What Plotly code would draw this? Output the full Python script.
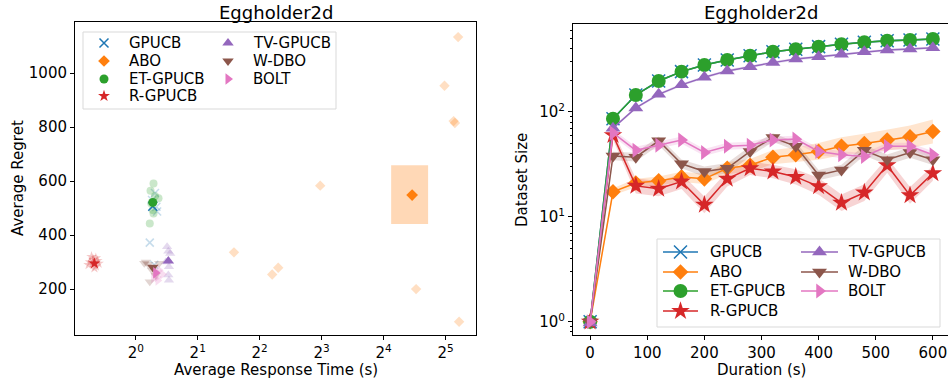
import math
import plotly.graph_objects as go

# ---------------- data ----------------
methods = ["GPUCB", "ABO", "ET-GPUCB", "R-GPUCB", "TV-GPUCB", "W-DBO", "BOLT"]
colors = ["#1f77b4", "#ff7f0e", "#2ca02c", "#d62728", "#9467bd", "#8c564b", "#e377c2"]

# Left panel: individual runs (response time s, regret) and means
gpucb_time = [1.24, 1.27, 1.17, 1.20, 1.26, 1.23]
gpucb_regret = [556, 487, 372, 530, 505, 290]
abo_time = [36.8, 31.6, 35.0, 35.5, 7.87, 3.0, 4.6, 4.92, 23.0, 37.2]
abo_regret = [1133, 953, 822, 815, 583, 336, 254, 279, 200, 79]
et_time = [1.22, 1.18, 1.29, 1.19, 1.21, 1.22, 1.17, 1.24]
et_regret = [591, 564, 536, 517, 493, 480, 443, 545]
r_time = [0.62, 0.60, 0.64, 0.66, 0.61, 0.63, 0.65, 0.59, 0.64, 0.62]
r_regret = [310, 300, 285, 295, 320, 278, 305, 290, 315, 298]
tv_time = [1.42, 1.47, 1.44, 1.45, 1.44, 1.45, 1.40]
tv_regret = [357, 332, 340, 283, 252, 233, 300]
wdbo_time = [1.10, 1.15, 1.30, 1.17, 1.25, 1.12, 1.20]
wdbo_regret = [296, 292, 296, 227, 250, 300, 270]
bolt_time = [1.27, 1.30, 1.22, 1.35, 1.25, 1.28]
bolt_regret = [245, 270, 240, 255, 265, 232]

mean_time = [1.21, 22.0, 1.21, 0.63, 1.44, 1.21, 1.25]
mean_regret = [507, 548, 521, 295, 304, 281, 260]
abo_std_time = [17.4, 26.3]
abo_std_regret = [441, 659]

# Right panel: dataset size vs duration
duration = [0, 40, 80, 120, 160, 200, 240, 280, 320, 360, 400, 440, 480, 520, 560, 600]
gpucb_size = [1, 86, 145, 197, 242, 280, 313, 343, 375, 395, 419, 441, 461, 477, 485, 495]
abo_size = [1, 17.3, 21, 22, 24, 23, 29, 31, 37, 39, 42, 47, 50, 54, 58, 65]
et_size = [1, 86, 145, 197, 242, 280, 313, 343, 375, 395, 419, 441, 461, 477, 485, 495]
r_size = [1, 60, 19.7, 18.5, 21.7, 13, 23, 29, 27, 24, 19.5, 13.6, 17, 31, 16, 26]
tv_size = [0.97, 70, 109, 147, 181, 214, 246, 270, 295, 319, 336, 354, 375, 389, 398, 409]
wdbo_size = [1, 38, 37, 53, 32, 27, 29, 42, 57, 47, 25, 28, 43, 35, 41, 35]
bolt_size = [1, 63, 43, 48, 54, 41, 47, 48, 54, 55, 42, 39, 37.5, 47, 47, 39]

# relative half-width of shaded bands
gpucb_spread = [0.02] * 16
abo_spread = [0.0, 0.08, 0.10, 0.10, 0.12, 0.12, 0.14, 0.15, 0.17, 0.18, 0.20, 0.22, 0.24, 0.26, 0.28, 0.30]
et_spread = [0.02] * 16
r_spread = [0.0, 0.10, 0.18, 0.18, 0.18, 0.20, 0.18, 0.16, 0.16, 0.18, 0.20, 0.20, 0.20, 0.18, 0.20, 0.18]
tv_spread = [0.03] * 16
wdbo_spread = [0.0, 0.10, 0.10, 0.10, 0.10, 0.12, 0.12, 0.12, 0.10, 0.10, 0.12, 0.12, 0.12, 0.12, 0.12, 0.12]
bolt_spread = [0.0, 0.08, 0.08, 0.08, 0.08, 0.08, 0.08, 0.08, 0.08, 0.08, 0.08, 0.08, 0.08, 0.08, 0.08, 0.08]

left_runs = [(gpucb_time, gpucb_regret), (abo_time, abo_regret), (et_time, et_regret),
             (r_time, r_regret), (tv_time, tv_regret), (wdbo_time, wdbo_regret), (bolt_time, bolt_regret)]
right_sizes = [gpucb_size, abo_size, et_size, r_size, tv_size, wdbo_size, bolt_size]
right_spreads = [gpucb_spread, abo_spread, et_spread, r_spread, tv_spread, wdbo_spread, bolt_spread]

symbols = ["x-thin", "diamond", "circle", "star", "triangle-up", "triangle-down", "triangle-right"]
left_sizes = [9, 9, 9, 9, 10, 10, 10]
right_msize = [13, 12, 14, 14, 13, 13, 13]

FONT = "DejaVu Sans"
W, H = 948, 387
ML, MR, MT, MB = 75, 0, 22, 52
PW, PH = W - ML - MR, H - MT - MB


def px_x(px):
    return (px - ML) / PW


def px_y(py):
    return (H - MB - py) / PH


def rgba(hexc, a):
    h = hexc.lstrip("#")
    return "rgba(%d,%d,%d,%s)" % (int(h[0:2], 16), int(h[2:4], 16), int(h[4:6], 16), a)


def marker(i, size, opacity=None):
    mk = dict(symbol=symbols[i], size=size, color=colors[i])
    if opacity is not None:
        mk["opacity"] = opacity
    if symbols[i] == "x-thin":
        mk["line"] = dict(width=1.5, color=colors[i])
    return mk


fig = go.Figure()

# ---------- left panel ----------
fig.add_trace(go.Scatter(
    x=[abo_std_time[0], abo_std_time[1], abo_std_time[1], abo_std_time[0], abo_std_time[0]],
    y=[abo_std_regret[0], abo_std_regret[0], abo_std_regret[1], abo_std_regret[1], abo_std_regret[0]],
    fill="toself", fillcolor=rgba(colors[1], 0.3), line=dict(width=0), mode="lines",
    showlegend=False, hoverinfo="skip", xaxis="x", yaxis="y"))

for i, m in enumerate(methods):
    t, r = left_runs[i]
    fig.add_trace(go.Scatter(x=t, y=r, mode="markers", marker=marker(i, left_sizes[i] - 1, 0.25),
                             showlegend=False, xaxis="x", yaxis="y", hoverinfo="skip"))

for i, m in enumerate(methods):
    fig.add_trace(go.Scatter(x=[mean_time[i]], y=[mean_regret[i]], mode="markers",
                             marker=marker(i, left_sizes[i]), name=m, showlegend=False,
                             xaxis="x", yaxis="y"))

# ---------- right panel ----------
for i, m in enumerate(methods):
    s = right_sizes[i]
    sp = right_spreads[i]
    hi = [v * (1 + e) for v, e in zip(s, sp)]
    lo = [v / (1 + e) for v, e in zip(s, sp)]
    fig.add_trace(go.Scatter(x=duration + duration[::-1], y=hi + lo[::-1], fill="toself",
                             fillcolor=rgba(colors[i], 0.2), line=dict(width=0), mode="lines",
                             showlegend=False, hoverinfo="skip", xaxis="x2", yaxis="y2"))

for i, m in enumerate(methods):
    fig.add_trace(go.Scatter(x=duration, y=right_sizes[i], mode="lines+markers",
                             line=dict(color=colors[i], width=1.5), marker=marker(i, right_msize[i]),
                             name=m, showlegend=False, xaxis="x2", yaxis="y2"))

# ---------- legends (drawn on a pixel-space overlay) ----------
legend_frames = [(83, 336, 32, 109), (657, 940, 239, 327)]
for (x0, x1, y0, y1) in legend_frames:
    fig.add_shape(type="rect", xref="paper", yref="paper", x0=px_x(x0), x1=px_x(x1),
                  y0=px_y(y1), y1=px_y(y0), line=dict(color="#d9d9d9", width=1),
                  fillcolor="white", layer="below")

left_rows = [43, 61, 79, 96]
right_rows = [252, 272, 291, 311]
left_cols = [(104, 127), (228, 251)]          # (symbol centre, text start)
right_cols = [(663, 698, 708), (801, 838, 846)]  # (line start, line end, text start)

for i, m in enumerate(methods):
    c = 0 if i < 4 else 1
    r = i if i < 4 else i - 4
    sx, tx = left_cols[c]
    fig.add_trace(go.Scatter(x=[sx], y=[left_rows[r]], mode="markers", marker=marker(i, left_sizes[i]),
                             showlegend=False, hoverinfo="skip", xaxis="x3", yaxis="y3"))
    fig.add_annotation(text=m, x=px_x(tx), y=px_y(left_rows[r]), xref="paper", yref="paper",
                       xanchor="left", yanchor="middle", showarrow=False,
                       font=dict(family=FONT, size=15, color="black"))
    lx0, lx1, tx2 = right_cols[c]
    yy = right_rows[r]
    fig.add_trace(go.Scatter(x=[lx0, lx1], y=[yy, yy], mode="lines", line=dict(color=colors[i], width=1.5),
                             showlegend=False, hoverinfo="skip", xaxis="x3", yaxis="y3"))
    fig.add_trace(go.Scatter(x=[(lx0 + lx1) / 2], y=[yy], mode="markers", marker=marker(i, right_msize[i]),
                             showlegend=False, hoverinfo="skip", xaxis="x3", yaxis="y3"))
    fig.add_annotation(text=m, x=px_x(tx2), y=px_y(yy), xref="paper", yref="paper",
                       xanchor="left", yanchor="middle", showarrow=False,
                       font=dict(family=FONT, size=15, color="black"))

axis_common = dict(showline=True, linecolor="black", linewidth=1, ticks="outside", ticklen=4,
                   tickcolor="black", tickfont=dict(family=FONT, size=15, color="black"),
                   showgrid=False, zeroline=False)

lxa, lxb = -0.98, 5.49
fig.update_layout(
    width=W, height=H, margin=dict(l=ML, r=MR, t=MT, b=MB),
    paper_bgcolor="white", plot_bgcolor="rgba(0,0,0,0)",
    font=dict(family=FONT, size=15, color="black"),
    showlegend=False,
    xaxis=dict(domain=[0, px_x(476)], type="log",
               range=[lxa * math.log10(2), lxb * math.log10(2)],
               tickmode="array", tickvals=[1, 2, 4, 8, 16, 32],
               ticktext=["2<sup>%d</sup>" % k for k in range(6)],
               mirror=True, anchor="y", **axis_common),
    yaxis=dict(domain=[0, 1], range=[30, 1189], tickmode="array",
               tickvals=[200, 400, 600, 800, 1000], mirror=True, anchor="x", **axis_common),
    xaxis2=dict(domain=[px_x(573), 1], range=[-30, 626.5], tickmode="array",
                tickvals=[0, 100, 200, 300, 400, 500, 600], mirror=True, anchor="y2", **axis_common),
    yaxis2=dict(domain=[0, px_y(24)], type="log", range=[-0.127, 2.838], tickmode="array",
                tickvals=[1, 10, 100], ticktext=["10<sup>0</sup>", "10<sup>1</sup>", "10<sup>2</sup>"],
                minor=dict(ticks="outside", ticklen=2, tickcolor="black", tickmode="array",
                           tickvals=[0.8, 0.9, 2, 3, 4, 5, 6, 7, 8, 9, 20, 30, 40, 50, 60, 70, 80, 90,
                                     200, 300, 400, 500, 600]),
                anchor="x2", **axis_common),
    xaxis3=dict(domain=[0, 1], range=[ML, W], visible=False, fixedrange=True, anchor="y3"),
    yaxis3=dict(domain=[0, 1], range=[H - MB, MT], visible=False, fixedrange=True, anchor="x3"),
)

ann = [
    dict(text="Eggholder2d", x=px_x(276), y=px_y(12), size=18, angle=0),
    dict(text="Eggholder2d", x=px_x(761), y=px_y(12), size=18, angle=0),
    dict(text="Average Response Time (s)", x=px_x(276), y=px_y(370), size=15, angle=0),
    dict(text="Duration (s)", x=px_x(761), y=px_y(370), size=15, angle=0),
    dict(text="Average Regret", x=px_x(18), y=px_y(178), size=15, angle=-90),
    dict(text="Dataset Size", x=px_x(522), y=px_y(180), size=15, angle=-90),
]
for a in ann:
    fig.add_annotation(text=a["text"], x=a["x"], y=a["y"], xref="paper", yref="paper",
                       xanchor="center", yanchor="middle", showarrow=False, textangle=a["angle"],
                       font=dict(family=FONT, size=a["size"], color="black"))

fig.write_html("out.html")
